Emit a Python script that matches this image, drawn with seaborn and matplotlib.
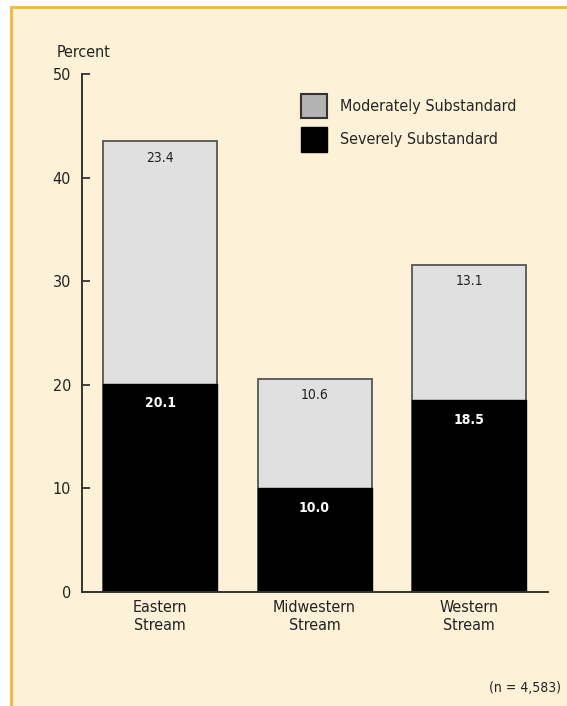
import matplotlib
matplotlib.use("Agg")
import matplotlib.pyplot as plt
import seaborn as sns
import pandas as pd
from matplotlib.patches import Patch, Rectangle

# data
streams = ["Eastern\nStream", "Midwestern\nStream", "Western\nStream"]
severe = [20.1, 10.0, 18.5]
moderate = [23.4, 10.6, 13.1]
n_note = "(n = 4,583)"

sns.set_style("white")
plt.rcParams["font.family"] = ["DejaVu Sans"]
plt.rcParams["font.stretch"] = "condensed"

bg = "#fdf1d8"
light = "#e0e0e0"
dark = "#000000"

df = pd.DataFrame({
    "stream": streams,
    "severe": severe,
    "total": [s + m for s, m in zip(severe, moderate)],
})

fig = plt.figure(figsize=(5.67, 7.06), dpi=100)
fig.patch.set_facecolor("white")
# cream panel with orange border (top and left visible)
fig.patches.append(Rectangle((11 / 567, -0.1), 1.2, 1.1 - 7 / 706,
                             transform=fig.transFigure, facecolor=bg,
                             edgecolor="#f4b63a", linewidth=2.0, zorder=-5))

ax = fig.add_axes([82 / 567, 1 - 592 / 706, 466 / 567, 518 / 706])
ax.set_facecolor("none")
ax.set_zorder(2)

# total height first (light), severe on top of it (dark)
sns.barplot(data=df, x="stream", y="total", color=light, width=0.738,
            edgecolor="#555555", linewidth=1.3, saturation=1, ax=ax)
sns.barplot(data=df, x="stream", y="severe", color=dark, width=0.738,
            edgecolor=dark, linewidth=1.0, saturation=1, ax=ax)

ax.set_xlim(-0.505, 2.511)
ax.set_ylim(0, 50)
ax.set_yticks([0, 10, 20, 30, 40, 50])
ax.set_xlabel("")
ax.set_ylabel("")
for side in ["top", "right"]:
    ax.spines[side].set_visible(False)
for side in ["left", "bottom"]:
    ax.spines[side].set_color("#333333")
    ax.spines[side].set_linewidth(1.4)
ax.tick_params(axis="y", direction="in", length=6, width=1.3,
               color="#333333", labelsize=11.5, labelcolor="#222222", pad=8,
               left=True)
ax.tick_params(axis="x", length=0, labelsize=11.5, labelcolor="#222222", pad=6)

for i in range(len(streams)):
    tot = severe[i] + moderate[i]
    ax.text(i, tot - 1.6, f"{moderate[i]:.1f}", ha="center", va="center",
            fontsize=10, color="#222222")
    ax.text(i, severe[i] - 1.9, f"{severe[i]:.1f}", ha="center", va="center",
            fontsize=10, color="white", fontweight="bold")

ax.text(-0.67, 52.1, "Percent", ha="left", va="center", fontsize=11.5,
        color="#222222", clip_on=False)

handles = [Patch(facecolor="#b3b3b3", edgecolor="#333333", linewidth=1.5,
                 label="Moderately Substandard"),
           Patch(facecolor=dark, edgecolor=dark, label="Severely Substandard")]
ax.legend(handles=handles, loc="upper left", bbox_to_anchor=(0.44, 0.99),
          frameon=False, fontsize=11.5, handlelength=1.6, handleheight=2.0,
          handletextpad=0.8, labelspacing=0.55)

fig.text(561 / 567, 1 - 688 / 706, n_note, ha="right", va="center",
         fontsize=10, color="#222222")

fig.savefig("out.png", dpi=100, facecolor=fig.get_facecolor())
